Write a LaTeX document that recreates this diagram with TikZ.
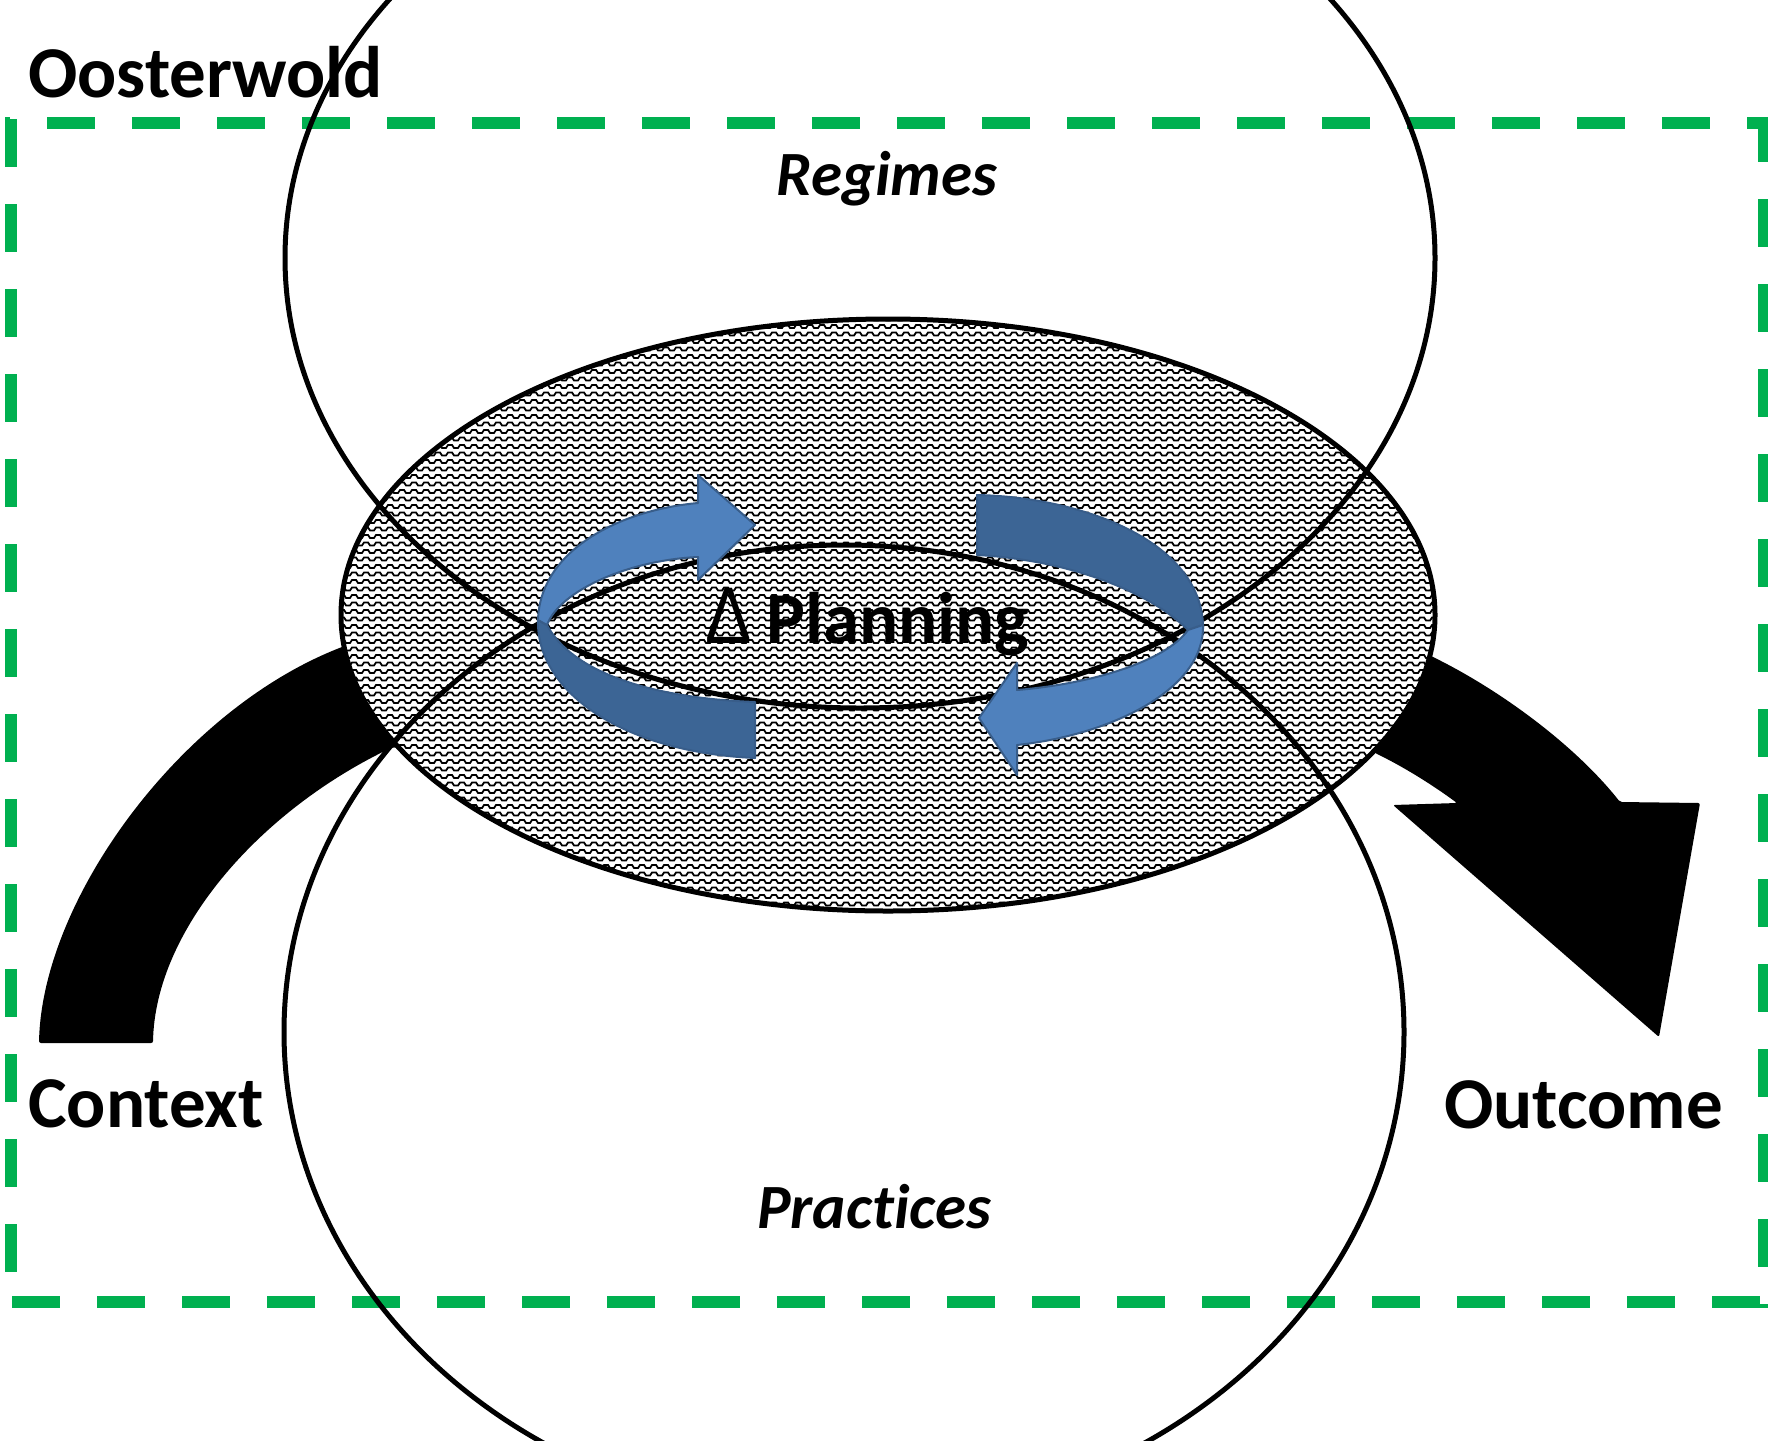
\documentclass[tikz,border=0pt]{standalone}
\usepackage{fontspec}
\usepackage{graphicx}
\setmainfont{Carlito}[Ligatures=NoCommon]
\newfontfamily\deltafont{Liberation Sans}
\usetikzlibrary{patterns}
\pgfdeclarepatternformonly{zigzagh}{\pgfqpoint{-1pt}{-1pt}}{\pgfqpoint{13pt}{8.5pt}}{\pgfqpoint{12pt}{7.5pt}}{%
  \pgfsetlinewidth{1.8pt}%
  \pgfpathmoveto{\pgfqpoint{0pt}{2pt}}%
  \pgfpathlineto{\pgfqpoint{2pt}{2pt}}%
  \pgfpathlineto{\pgfqpoint{4pt}{5pt}}%
  \pgfpathlineto{\pgfqpoint{8pt}{5pt}}%
  \pgfpathlineto{\pgfqpoint{10pt}{2pt}}%
  \pgfpathlineto{\pgfqpoint{12pt}{2pt}}%
  \pgfusepath{stroke}}
\definecolor{grn}{HTML}{00B050}
\definecolor{bluelt}{HTML}{4F81BD}
\definecolor{bluedk}{HTML}{3C6595}
\definecolor{blueln}{HTML}{385D8A}
\tikzset{
  bluelight/.style={fill=bluelt, draw=blueln, line width=2pt, line join=round},
  bluedark/.style={fill=bluedk, draw=blueln, line width=2pt, line join=round},
  greenline/.style={grn, line width=12pt, dash pattern=on 48pt off 37pt},
  outline/.style={line width=5pt},
  bigtext/.style={inner sep=0pt, font=\fontsize{73}{80}\selectfont\bfseries},
  midtext/.style={inner sep=0pt, font=\fontsize{63}{70}\selectfont\bfseries\itshape}
}
\begin{document}
\begin{tikzpicture}[x=1pt,y=-1pt]
\useasboundingbox (0,0) rectangle (1768,1440);
\fill[white] (0,0) rectangle (1768,1440);

% black arrows
\fill[black, rounded corners=2pt] (39,1043) .. controls (42,900) and (180,710) .. (342,647) -- (450,610) -- (450,760) -- (393,747) .. controls (260,810) and (155,930) .. (153,1043) -- cycle;
\fill[black, rounded corners=2pt] (1433,657) .. controls (1500,690) and (1575,745) .. (1620,802) -- (1700,803) -- (1659,1037) -- (1393,805) -- (1457,803) .. controls (1430,783) and (1400,765) .. (1375,753) -- (1330,700) -- (1380,630) -- cycle;

% hatched ellipse
\fill[white] (888,615) ellipse [x radius=547pt, y radius=296pt];
\fill[pattern=zigzagh] (888,615) ellipse [x radius=547pt, y radius=296pt];
\draw[outline] (888,615) ellipse [x radius=547pt, y radius=296pt];

% green dashed frame
\draw[greenline, dash phase=43pt] (5,123) -- (1770,123);
\draw[greenline, dash phase=3pt] (1764,117) -- (1764,1308);
\draw[greenline, dash phase=0pt] (11,119) -- (11,1308);
\draw[greenline, dash phase=84pt] (11,1302) -- (1770,1302);

% circles
\draw[outline] (860,258) ellipse [x radius=575pt, y radius=450pt];
\draw[outline] (844,1032) ellipse [x radius=560pt, y radius=487pt];

% blue circular arrows
\path[bluedark] (538,620) .. controls (536,690) and (620,752) .. (755,758) -- (755,702) .. controls (650,698) and (572,672) .. (547,625) -- cycle;
\path[bluelight] (755,525) -- (698,475) -- (698,503) .. controls (620,510) and (540,550) .. (538,620) -- (547,625) .. controls (560,590) and (630,560) .. (698,557) -- (698,580) -- cycle;
\path[bluedark] (977,495) .. controls (1080,497) and (1200,540) .. (1203,625) -- (1188,630) .. controls (1150,592) and (1070,560) .. (977,555) -- cycle;
\path[bluelight] (1203,625) .. controls (1205,690) and (1110,735) .. (1017,745) -- (1017,775) -- (979,718) -- (1017,663) -- (1017,690) .. controls (1090,684) and (1165,662) .. (1188,630) -- cycle;

% texts
\node[bigtext, anchor=base west] (oost) at (28,97) {Oosterwold};
\node[bigtext, anchor=base west] (ctx) at (28,1127) {Context};
\node[bigtext, anchor=base east] (outc) at (1723,1128) {Outcome};
\node[midtext, anchor=base] (reg) at (887,195) {Regimes};
\node[midtext, anchor=base] (prac) at (874,1228) {Practices};
\node[inner sep=0pt, anchor=base west, font=\fontsize{73}{80}\selectfont] (plan) at (705,643) {{\deltafont\scalebox{0.95}[1.1]{Δ}}\hspace{15pt}{\bfseries Planning}};
\end{tikzpicture}
\end{document}
